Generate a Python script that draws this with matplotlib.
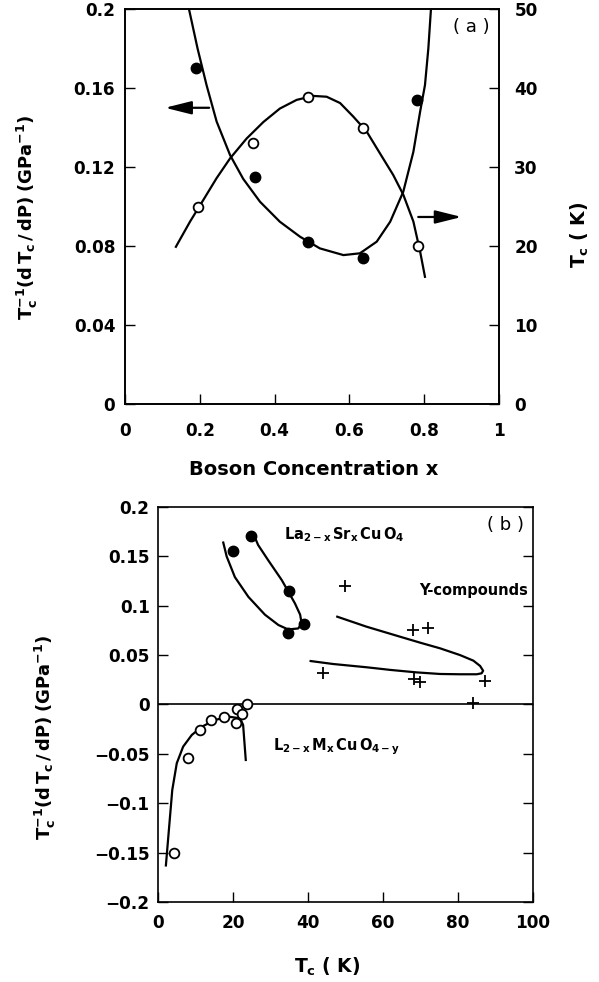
import numpy as np
import matplotlib.pyplot as plt

plt.rcParams['font.family'] = 'DejaVu Sans'
plt.rcParams['mathtext.fontset'] = 'dejavusans'

# (a) pressure coefficient (filled) and Tc (open) vs boson concentration
x_dtc = [0.19, 0.348, 0.49, 0.637, 0.78]
dtc_a = [0.170, 0.115, 0.082, 0.074, 0.154]
x_tc = [0.196, 0.343, 0.49, 0.637, 0.784]
tc_a = [24.9, 33.1, 38.9, 35.0, 20.0]

fit_dtc_x = [0.171, 0.194, 0.218, 0.245, 0.281, 0.316, 0.361, 0.414, 0.468, 0.521,
             0.584, 0.628, 0.673, 0.709, 0.744, 0.771, 0.789, 0.802, 0.811, 0.818]
fit_dtc_y = [0.200, 0.180, 0.1615, 0.143, 0.126, 0.114, 0.1024, 0.0923, 0.0847, 0.0788,
             0.0754, 0.0763, 0.0822, 0.0923, 0.1075, 0.1277, 0.148, 0.1615, 0.180, 0.200]
fit_tc_x = [0.136, 0.174, 0.209, 0.245, 0.281, 0.325, 0.370, 0.414, 0.459, 0.503,
            0.539, 0.575, 0.610, 0.646, 0.682, 0.717, 0.744, 0.771, 0.789, 0.802]
fit_tc_y = [19.9, 23.1, 25.8, 28.6, 31.1, 33.6, 35.7, 37.4, 38.5, 39.0,
            38.9, 38.1, 36.4, 34.5, 31.7, 29.0, 26.5, 23.1, 19.3, 16.1]

# (b) pressure coefficient vs Tc
tc_la = [19.9, 24.8, 35.0, 39.0, 34.6]
dtc_la = [0.155, 0.171, 0.115, 0.082, 0.072]
fit_la_x = [17.4, 18.3, 20.5, 24.1, 28.5, 32.1, 34.7, 37.4, 38.3, 37.9, 36.5, 33.0, 29.4, 26.7, 25.4]
fit_la_y = [0.164, 0.150, 0.129, 0.109, 0.091, 0.0805, 0.076, 0.077, 0.082, 0.091,
            0.1025, 0.126, 0.146, 0.1615, 0.173]

tc_y = [49.9, 68.1, 71.9, 43.9, 68.4, 70.0, 87.2, 84.1]
dtc_y = [0.120, 0.0754, 0.0771, 0.0322, 0.0261, 0.0231, 0.0241, 0.001]
fit_y_x = [47.8, 55.6, 64.5, 70.0, 75.2, 80.5, 84.1, 85.9, 86.7, 86.3, 85.0, 80.5, 75.2,
           69.0, 62.0, 55.6, 46.7, 40.7]
fit_y_y = [0.0889, 0.0788, 0.0687, 0.0625, 0.0569, 0.0501, 0.0444, 0.039, 0.0342, 0.0316,
           0.0306, 0.0306, 0.0309, 0.0325, 0.035, 0.0377, 0.041, 0.044]

tc_l = [4.3, 8.1, 11.2, 14.1, 17.6, 20.7, 21.1, 22.3, 23.7]
dtc_l = [-0.150, -0.0545, -0.0258, -0.0157, -0.0123, -0.019, -0.0049, -0.0096, 0.0005]
fit_l_x = [2.1, 2.9, 3.8, 5.0, 6.7, 9.0, 11.7, 15.2, 18.8, 21.9, 22.7, 23.0, 23.4]
fit_l_y = [-0.163, -0.127, -0.0866, -0.0595, -0.0427, -0.0309, -0.0225, -0.0157, -0.0123,
           -0.014, -0.0208, -0.036, -0.0562]

xt_a = [0, 0.2, 0.4, 0.6, 0.8, 1]
xt_a_lab = ['0', '0.2', '0.4', '0.6', '0.8', '1']
yt_a = [0, 0.04, 0.08, 0.12, 0.16, 0.2]
yt_a_lab = ['0', '0.04', '0.08', '0.12', '0.16', '0.2']
yt_a2 = [0, 10, 20, 30, 40, 50]
xt_b = [0, 20, 40, 60, 80, 100]
yt_b = [-0.2, -0.15, -0.1, -0.05, 0, 0.05, 0.1, 0.15, 0.2]
yt_b_lab = ['\u22120.2', '\u22120.15', '\u22120.1', '\u22120.05', '0', '0.05', '0.1', '0.15', '0.2']

tick_font = dict(fontsize=12.2, fontweight='bold')
lw = 1.6

fig = plt.figure(figsize=(5.99, 9.82), dpi=100)
ax = fig.add_axes([0.2087, 0.5886, 0.6244, 0.4022])
ax2 = ax.twinx()

ax.plot(fit_dtc_x, fit_dtc_y, color='black', lw=lw, zorder=2)
ax.plot(x_dtc, dtc_a, 'o', ms=7.5, color='black', zorder=3)
ax2.plot(fit_tc_x, fit_tc_y, color='black', lw=lw, zorder=2)
ax2.plot(x_tc, tc_a, 'o', ms=7, mfc='white', mec='black', mew=1.3, zorder=3)

ax.set_xlim(0, 1)
ax.set_ylim(0, 0.2)
ax2.set_ylim(0, 50)
ax.set_xticks(xt_a)
ax.set_xticklabels(xt_a_lab, **tick_font)
ax.set_yticks(yt_a)
ax.set_yticklabels(yt_a_lab, **tick_font)
ax2.set_yticks(yt_a2)
ax2.set_yticklabels([str(v) for v in yt_a2], **tick_font)
ax.tick_params(axis='x', direction='in', length=7.5, width=1, pad=13, top=False)
ax.tick_params(axis='y', direction='in', length=7.5, width=1, pad=7)
ax2.tick_params(axis='y', direction='in', length=7.5, width=1, pad=11)
for a in (ax, ax2):
    for s in a.spines.values():
        s.set_linewidth(1.2)

arrow = dict(arrowstyle='-|>,head_length=0.8,head_width=0.2', color='black', lw=1.6,
             mutation_scale=20, shrinkA=0, shrinkB=0)
ax.annotate('', xy=(0.107, 0.15), xytext=(0.225, 0.15), arrowprops=arrow)
ax.annotate('', xy=(0.900, 0.0947), xytext=(0.784, 0.0947), arrowprops=arrow)
ax.text(0.927, 0.1907, '( a )', fontsize=13, ha='center', va='center')

# (b)
bx = fig.add_axes([0.2638, 0.0815, 0.626, 0.4022])
bx.axhline(0, color='black', lw=1.2, zorder=1)
bx.plot(fit_la_x, fit_la_y, color='black', lw=lw, zorder=2)
bx.plot(tc_la, dtc_la, 'o', ms=7.5, color='black', zorder=3)
bx.plot(fit_y_x, fit_y_y, color='black', lw=lw, zorder=2)
bx.plot(tc_y, dtc_y, '+', ms=9, mew=1.3, color='black', zorder=3)
bx.plot(fit_l_x, fit_l_y, color='black', lw=lw, zorder=2)
bx.plot(tc_l, dtc_l, 'o', ms=7, mfc='white', mec='black', mew=1.3, zorder=3)

bx.set_xlim(0, 100)
bx.set_ylim(-0.2, 0.2)
bx.set_xticks(xt_b)
bx.set_xticklabels([str(v) for v in xt_b], **tick_font)
bx.set_yticks(yt_b)
bx.set_yticklabels(yt_b_lab, **tick_font)
bx.tick_params(axis='x', direction='in', length=7.5, width=1, pad=9)
bx.tick_params(axis='y', direction='in', length=7.5, width=1, pad=6, right=True)
for s in bx.spines.values():
    s.set_linewidth(1.2)

bx.text(33.5, 0.1716, r'$\mathbf{La_{2-x}\,Sr_{x}\,Cu\,O_{4}}$', fontsize=10.5, ha='left', va='center')
bx.text(98.7, 0.115, 'Y-compounds', fontsize=10.5, fontweight='bold', ha='right', va='center')
bx.text(30.6, -0.0427, r'$\mathbf{L_{2-x}\,M_{x}\,Cu\,O_{4-y}}$', fontsize=10.5, ha='left', va='center')
bx.text(92.8, 0.182, '( b )', fontsize=13, ha='center', va='center')

# axis labels
ylab = r'$\mathbf{T_c^{-1}(d\,T_c\,/\,dP)\;(GPa^{-1})}$'
fig.text(27 / 599, 1 - 217 / 982, ylab, rotation=90, ha='center', va='center', fontsize=13)
fig.text(580 / 599, 1 - 235 / 982, r'$\mathbf{T_c}$ ( K)', rotation=90, ha='center', va='center',
         fontsize=13.5, fontweight='bold')
fig.text(314 / 599, 1 - 470 / 982, 'Boson Concentration x', ha='center', va='center',
         fontsize=14, fontweight='bold')
fig.text(45 / 599, 1 - 737 / 982, ylab, rotation=90, ha='center', va='center', fontsize=13)
fig.text(327 / 599, 1 - 967 / 982, r'$\mathbf{T_c}$ ( K)', ha='center', va='center',
         fontsize=13.5, fontweight='bold')

fig.savefig('out.png', dpi=100)
